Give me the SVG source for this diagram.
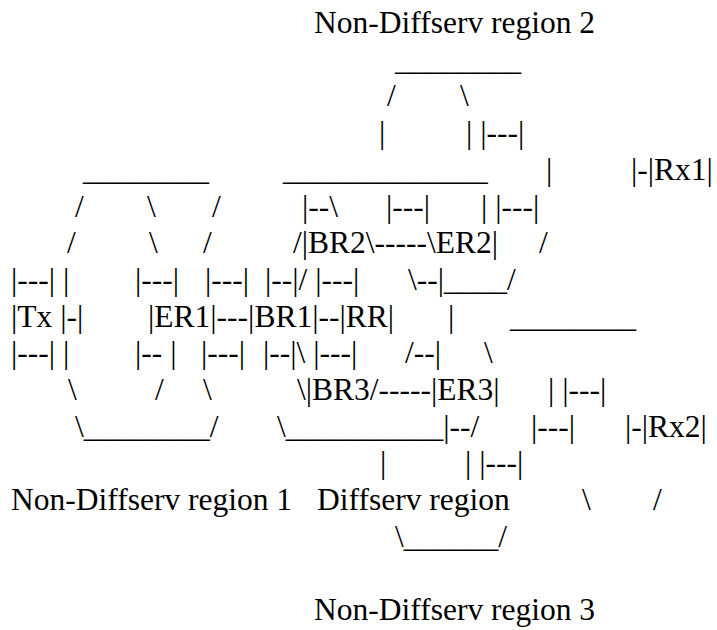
<svg xmlns="http://www.w3.org/2000/svg" width="717" height="630" viewBox="0 0 717 630">
  <style>
    .t { font-family: "Liberation Serif", "Times New Roman", serif; font-size: 31.5px; fill: #000; }
  </style>
  <rect width="717" height="630" fill="#fff"/>
  <g class="t">
    <g id="row01"><text x="314" y="33">Non-Diffserv region 2</text></g>
    <g id="row02"><text x="395" y="69.7">________</text></g>
    <g id="row03"><text x="387" y="106.4">/</text><text x="460" y="106.4">\</text></g>
    <g id="row04"><text x="379" y="143.1">|</text><text x="466" y="143.1">| |---|</text></g>
    <g id="row05"><text x="83" y="179.8">________</text><text x="283" y="179.8">_____________</text><text x="546" y="179.8">|</text><text x="631" y="179.8">|-|Rx1|</text></g>
    <g id="row06"><text x="75" y="216.5">/</text><text x="147" y="216.5">\</text><text x="212" y="216.5">/</text><text x="302" y="216.5">|--\</text><text x="386" y="216.5">|---|</text><text x="481" y="216.5">| |---|</text></g>
    <g id="row07"><text x="67" y="253.2">/</text><text x="149" y="253.2">\</text><text x="203" y="253.2">/</text><text x="293" y="253.2">/|BR2\-----\ER2|</text><text x="539" y="253.2">/</text></g>
    <g id="row08"><text x="11" y="289.9">|---| |</text><text x="135" y="289.9">|---|</text><text x="205" y="289.9">|---|</text><text x="265" y="289.9">|--|/ |---|</text><text x="408" y="289.9">\--|____/</text></g>
    <g id="row09"><text x="11" y="326.6">|Tx |-|</text><text x="148" y="326.6">|ER1|---|BR1|--|RR|</text><text x="448" y="326.6">|</text><text x="510" y="326.6">________</text></g>
    <g id="row10"><text x="11" y="363.3">|---| |</text><text x="135" y="363.3">|-- |</text><text x="201" y="363.3">|---|</text><text x="263" y="363.3">|--|\ |---|</text><text x="405" y="363.3">/--|</text><text x="484" y="363.3">\</text></g>
    <g id="row11"><text x="68" y="400">\</text><text x="155" y="400">/</text><text x="203" y="400">\</text><text x="297" y="400">\|BR3/-----|ER3|</text><text x="548" y="400">| |---|</text></g>
    <g id="row12"><text x="75" y="436.7">\________/</text><text x="277" y="436.7">\__________|--/</text><text x="531" y="436.7">|---|</text><text x="625" y="436.7">|-|Rx2|</text></g>
    <g id="row13"><text x="380" y="473.4">|</text><text x="465" y="473.4">| |---|</text></g>
    <g id="row14"><text x="11" y="510.1">Non-Diffserv region 1</text><text x="317" y="510.1">Diffserv region</text><text x="582" y="510.1">\</text><text x="653" y="510.1">/</text></g>
    <g id="row15"><text x="395" y="546.8">\______/</text></g>
    <g id="row17"><text x="314" y="620.2">Non-Diffserv region 3</text></g>
  </g>
</svg>
